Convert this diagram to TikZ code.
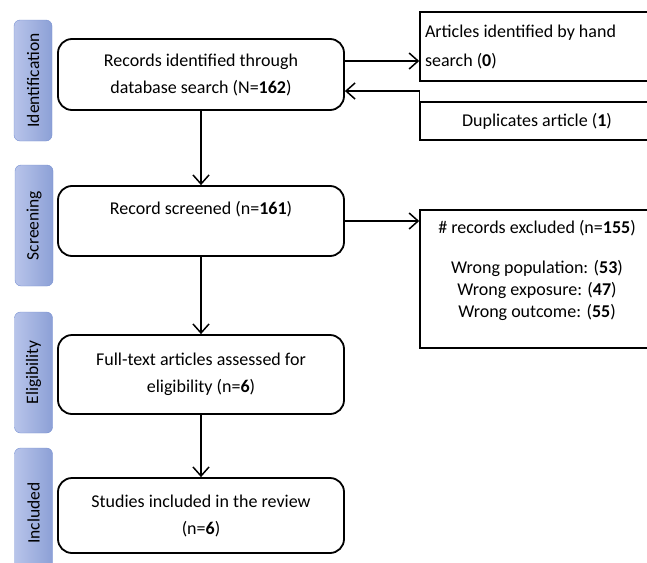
\documentclass[tikz,border=0pt]{standalone}
\usepackage{fontspec}
\setmainfont{Carlito}
\usetikzlibrary{arrows.meta, calc}

\definecolor{phaseleft}{RGB}{184,196,234}
\definecolor{phaseright}{RGB}{140,160,214}
\definecolor{phaseline}{RGB}{120,145,210}

\tikzset{
    stage/.style={draw, rounded corners=14pt, line width=1.8pt, minimum width=286pt, align=center, font=\fontsize{18}{27}\selectfont},
    side/.style={draw, line width=1.5pt, minimum width=240pt, font=\fontsize{18}{29}\selectfont},
    phase/.style={draw=phaseline, rounded corners=6pt, left color=phaseleft, right color=phaseright, minimum width=38pt, rotate=90, font=\fontsize{17.5}{18}\selectfont},
    arr/.style={-{Straight Barb[length=9pt, width=16pt]}, line width=1.5pt}
}

\begin{document}
\begin{tikzpicture}[x=1pt, y=-1pt]
        \useasboundingbox (0,0) rectangle (647,562);
        \clip (0,0) rectangle (647,562);

        \node[phase, minimum width=121pt, minimum height=38pt] (idlab) at (33,80.5) {Identification};
        \node[phase, minimum width=121pt, minimum height=38pt] (scrlab) at (34,225.5) {Screening};
        \node[phase, minimum width=121pt, minimum height=38pt] (eliglab) at (33.5,372.5) {Eligibility};
        \node[phase, minimum width=130pt, minimum height=38pt] (incllab) at (33.5,513) {Included};

        \node[stage, minimum height=71pt] (ident) at (201,74.5) {Records identified through\\database search (N=\textbf{162})};
        \node[stage, minimum height=70pt] (screen) at (201,221) {Record screened (n=\textbf{161})\\\mbox{}};
        \node[stage, minimum height=79pt] (elig) at (201,374.5) {Full-text articles assessed for\\eligibility (n=\textbf{6})};
        \node[stage, minimum height=75pt] (incl) at (201,515.5) {Studies included in the review\\(n=\textbf{6})};

        \node[side, minimum height=69pt, text width=230pt, align=flush left] (hand) at (540,46.5) {Articles identified by hand\\search (\textbf{0})};
        \node[side, minimum width=234pt, minimum height=38pt] (dup) at (537,121) {Duplicates article (\textbf{1})};
        \node[side, minimum width=234pt, minimum height=138pt, align=center, font=\fontsize{18}{22}\selectfont] (excl) at (537,279)
            {\# records excluded (n=\textbf{155})\\[18pt]Wrong population: (\textbf{53})\\Wrong exposure: (\textbf{47})\\Wrong outcome: (\textbf{55})\\[-1pt]\mbox{}};

        \draw[arr] (ident.south) -- (screen.north);
        \draw[arr] (screen.south) -- (elig.north);
        \draw[arr] (elig.south) -- (incl.north);
        \draw[arr] ([yshift=13.5pt]ident.east) -- ([yshift=13.5pt]ident.east -| hand.west);
        \draw[arr] (dup.north west) |- ([yshift=-16.5pt]ident.east);
        \draw[arr] (screen.east) -- (screen.east -| excl.west);
    \end{tikzpicture}
\end{document}
